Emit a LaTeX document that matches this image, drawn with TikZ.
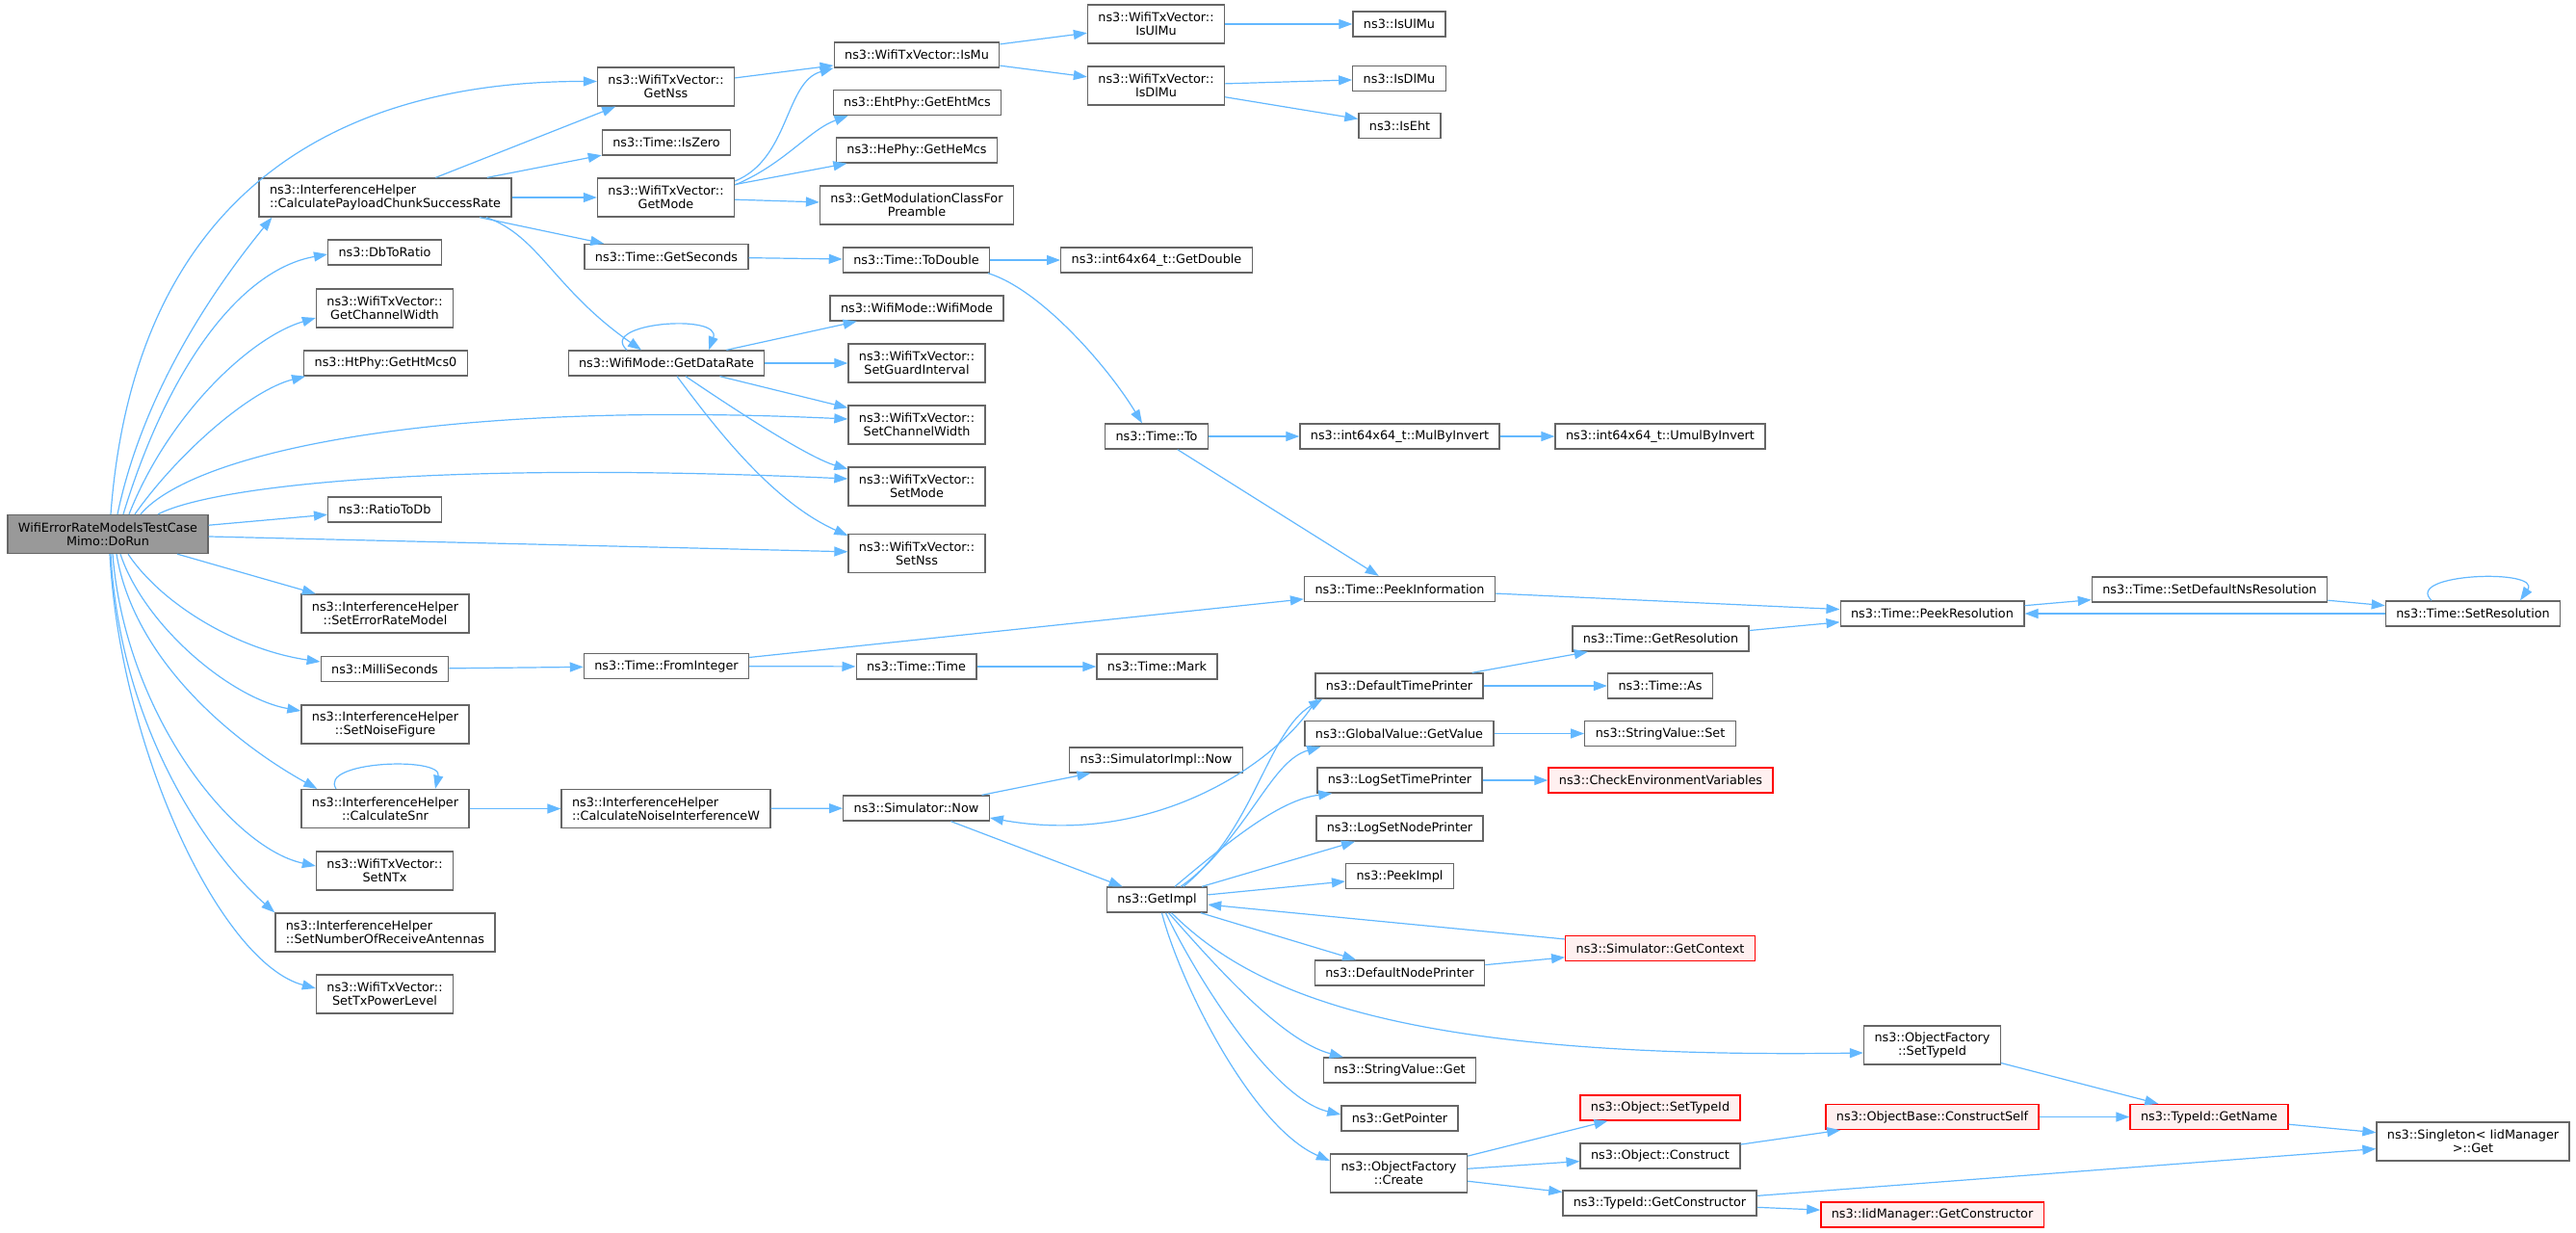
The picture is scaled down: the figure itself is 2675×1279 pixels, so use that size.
\documentclass[tikz,border=0pt]{standalone}
\usepackage{fontspec}
\usepackage{tikz}
\usetikzlibrary{arrows.meta,calc}
\newfontfamily\dejavu{DejaVu Sans}
\definecolor{edgeblue}{HTML}{63B8FF}
\definecolor{nodegrey}{HTML}{666666}
\definecolor{rootfill}{HTML}{999999}
\definecolor{redfill}{HTML}{FFF0F0}
\tikzset{
  fn/.style={draw=nodegrey, line width=1pt, fill=white, text=black,
    font=\dejavu\fontsize{9.6pt}{10.6pt}\selectfont,
    inner xsep=8.2pt, inner ysep=4.9pt, minimum height=19.5pt, align=center},
  fn2/.style={fn, minimum height=30pt},
  fnleft/.style={fn2, align=left},
  fnred/.style={fn, draw=red, fill=redfill},
  root/.style={fn2, fill=rootfill},
  call/.style={draw=edgeblue, line width=0.9pt, -{Triangle[length=10.5pt,width=7.5pt]}}
}
\begin{document}
\begin{tikzpicture}[x=0.75pt,y=0.75pt,yscale=-1,xscale=1]
\useasboundingbox (0,0) rectangle (2675,1279);

% Text Node: caller
\node[root] (dorun) at (112,554.5) {WifiErrorRateModelsTestCase\\Mimo::DoRun};

% Text Node: first column
\node[fnleft] (cpcsr) at (400,205) {ns3::InterferenceHelper\\::CalculatePayloadChunkSuccessRate};
\node[fn] (dbtoratio) at (399.5,262) {ns3::DbToRatio};
\node[fn2] (getchw) at (399.5,320) {ns3::WifiTxVector::\\GetChannelWidth};
\node[fn] (gethtmcs) at (400.5,377) {ns3::HtPhy::GetHtMcs0};
\node[fn] (ratiotodb) at (399.5,529) {ns3::RatioToDb};
\node[fn2] (seterm) at (400,637) {ns3::InterferenceHelper\\::SetErrorRateModel};
\node[fn] (millis) at (399.5,694.5) {ns3::MilliSeconds};
\node[fn2] (setnf) at (400,752) {ns3::InterferenceHelper\\::SetNoiseFigure};
\node[fn2] (calcsnr) at (400,839.5) {ns3::InterferenceHelper\\::CalculateSnr};
\node[fn2] (setntx) at (399.5,904) {ns3::WifiTxVector::\\SetNTx};
\node[fnleft] (setnra) at (400,968) {ns3::InterferenceHelper\\::SetNumberOfReceiveAntennas};
\node[fn2] (settxpl) at (399.5,1032) {ns3::WifiTxVector::\\SetTxPowerLevel};

% Text Node: second column
\node[fn2] (getnss) at (691.5,90) {ns3::WifiTxVector::\\GetNss};
\node[fn] (iszero) at (692,148) {ns3::Time::IsZero};
\node[fn2] (getmode) at (691.5,205) {ns3::WifiTxVector::\\GetMode};
\node[fn] (getsec) at (692,266.5) {ns3::Time::GetSeconds};
\node[fn] (getrate) at (692,377) {ns3::WifiMode::GetDataRate};
\node[fn] (fromint) at (692,691.5) {ns3::Time::FromInteger};
\node[fnleft] (calcniw) at (691.5,839.5) {ns3::InterferenceHelper\\::CalculateNoiseInterferenceW};

% Text Node: third column
\node[fn] (ismu) at (952,57) {ns3::WifiTxVector::IsMu};
\node[fn] (getehtmcs) at (952.5,106.5) {ns3::EhtPhy::GetEhtMcs};
\node[fn] (gethemcs) at (952,156) {ns3::HePhy::GetHeMcs};
\node[fn2] (getmcfp) at (952,213) {ns3::GetModulationClassFor\\Preamble};
\node[fn] (todouble) at (951.5,270) {ns3::Time::ToDouble};
\node[fn] (wifimode) at (952,320) {ns3::WifiMode::WifiMode};
\node[fn2] (setgi) at (952,377) {ns3::WifiTxVector::\\SetGuardInterval};
\node[fn2] (setcw) at (952,441) {ns3::WifiTxVector::\\SetChannelWidth};
\node[fn2] (setmode) at (952,505) {ns3::WifiTxVector::\\SetMode};
\node[fn2] (setnss) at (952,574.5) {ns3::WifiTxVector::\\SetNss};
\node[fn] (timetime) at (951.5,692) {ns3::Time::Time};
\node[fn] (simnow) at (951.5,839) {ns3::Simulator::Now};

% Text Node: fourth column
\node[fn2] (txisulmu) at (1200.5,25) {ns3::WifiTxVector::\\IsUlMu};
\node[fn2] (txisdlmu) at (1200.5,89) {ns3::WifiTxVector::\\IsDlMu};
\node[fn] (getdouble) at (1201,270) {ns3::int64x64\_t::GetDouble};
\node[fn] (timeto) at (1201,453) {ns3::Time::To};
\node[fn] (timemark) at (1201.5,692) {ns3::Time::Mark};
\node[fn] (simimplnow) at (1200.5,789) {ns3::SimulatorImpl::Now};
\node[fn] (getimpl) at (1201.5,934) {ns3::GetImpl};

% Text Node: fifth column
\node[fn] (isulmu) at (1453,25) {ns3::IsUlMu};
\node[fn] (isdlmu) at (1453,81.5) {ns3::IsDlMu};
\node[fn] (iseht) at (1453.5,130.5) {ns3::IsEht};
\node[fn] (mulbyinv) at (1453.5,453) {ns3::int64x64\_t::MulByInvert};
\node[fn] (peekinfo) at (1453.5,611.5) {ns3::Time::PeekInformation};
\node[fn] (deftimepr) at (1453,712) {ns3::DefaultTimePrinter};
\node[fn] (gvgetvalue) at (1453,761.5) {ns3::GlobalValue::GetValue};
\node[fn] (logsettp) at (1453.5,810) {ns3::LogSetTimePrinter};
\node[fn] (logsetnp) at (1453.5,860) {ns3::LogSetNodePrinter};
\node[fn] (peekimpl) at (1453.5,909.5) {ns3::PeekImpl};
\node[fn] (defnodepr) at (1453.5,1010) {ns3::DefaultNodePrinter};
\node[fn] (svget) at (1453.5,1111) {ns3::StringValue::Get};
\node[fn] (getpointer) at (1453.5,1161) {ns3::GetPointer};
\node[fn2] (ofcreate) at (1452.5,1218) {ns3::ObjectFactory\\::Create};

% Text Node: sixth column
\node[fn] (umulbyinv) at (1724,453) {ns3::int64x64\_t::UmulByInvert};
\node[fn] (getres) at (1724.5,663) {ns3::Time::GetResolution};
\node[fn] (timeas) at (1724,712) {ns3::Time::As};
\node[fn] (svset) at (1724,761.5) {ns3::StringValue::Set};
\node[fnred] (checkenv) at (1724.5,810) {ns3::CheckEnvironmentVariables};
\node[fnred] (getcontext) at (1724,984.5) {ns3::Simulator::GetContext};
\node[fnred] (objsettid) at (1724,1150) {ns3::Object::SetTypeId};
\node[fn] (objconstruct) at (1724,1200) {ns3::Object::Construct};
\node[fn] (tidgetctor) at (1723.5,1249) {ns3::TypeId::GetConstructor};

% Text Node: right columns
\node[fn] (peekres) at (2006.5,637) {ns3::Time::PeekResolution};
\node[fn2] (ofsettid) at (2006.5,1085) {ns3::ObjectFactory\\::SetTypeId};
\node[fnred] (constructself) at (2006.5,1159.5) {ns3::ObjectBase::ConstructSelf};
\node[fnred] (iidgetctor) at (2006.5,1261) {ns3::IidManager::GetConstructor};
\node[fn] (setdefres) at (2294.5,612) {ns3::Time::SetDefaultNsResolution};
\node[fnred] (getname) at (2294,1159.5) {ns3::TypeId::GetName};
\node[fn] (setres) at (2568,637) {ns3::Time::SetResolution};
\node[fn2] (singleton) at (2568,1185) {ns3::Singleton< IidManager\\>::Get};

%Curve Lines: out of the caller, upwards
\draw[call] ($(dorun.north)+(3,0)$) .. controls (140,200) and (350,84) .. ($(getnss.west)+(0,-5.5)$);
\draw[call] ($(dorun.north)+(10,0)$) .. controls (150,400) and (230,290) .. ($(cpcsr.south west)+(14,0)$);
\draw[call] ($(dorun.north)+(16,0)$) .. controls (175,380) and (250,280) .. ($(dbtoratio.west)+(0,2)$);
\draw[call] ($(dorun.north)+(22,0)$) .. controls (175,430) and (260,350) .. ($(getchw.west)+(0,10)$);
\draw[call] ($(dorun.north)+(28,0)$) .. controls (185,470) and (260,405) .. ($(gethtmcs.south west)+(2,0)$);
\draw[call] ($(dorun.north)+(34,0)$) .. controls (200,470) and (450,415) .. ($(setcw.west)+(0,-6)$);
\draw[call] ($(dorun.north)+(52,0)$) .. controls (220,505) and (450,478) .. ($(setmode.west)+(0,-8)$);

%Curve Lines: out of the caller, downwards
\draw[call] ($(dorun.south)+(21,0)$) .. controls (170,630) and (250,675) .. ($(millis.west)+(0,-7.5)$);
\draw[call] ($(dorun.south)+(13,0)$) .. controls (150,650) and (240,725) .. ($(setnf.west)+(0,-14)$);
\draw[call] ($(dorun.south)+(9,0)$) .. controls (140,690) and (250,775) .. ($(calcsnr.north west)+(17,0)$);
\draw[call] ($(dorun.south)+(5,0)$) .. controls (130,740) and (240,880) .. ($(setntx.west)+(0,-5)$);
\draw[call] ($(dorun.south)+(3,0)$) .. controls (125,760) and (220,890) .. (setnra.north west);
\draw[call] ($(dorun.south)+(2,0)$) .. controls (125,780) and (230,1000) .. ($(settxpl.west)+(0,-6)$);

%Straight Lines
\draw[call] (dorun) -- (ratiotodb);
\draw[call] (dorun) -- (setnss);
\draw[call] (dorun) -- (seterm);
\draw[call] (cpcsr) -- (getnss);
\draw[call] (cpcsr) -- (iszero);
\draw[call] (cpcsr) -- (getmode);
\draw[call] (cpcsr) -- (getsec);
\draw[call] (getnss) -- (ismu);
\draw[call] (getmode) -- (gethemcs);
\draw[call] (getmode) -- (getmcfp);
\draw[call] (ismu) -- (txisulmu);
\draw[call] (ismu) -- (txisdlmu);
\draw[call] (txisulmu) -- (isulmu);
\draw[call] (txisdlmu) -- (isdlmu);
\draw[call] (txisdlmu) -- (iseht);
\draw[call] (getsec) -- (todouble);
\draw[call] (todouble) -- (getdouble);
\draw[call] (timeto) -- (mulbyinv);
\draw[call] (mulbyinv) -- (umulbyinv);
\draw[call] (timeto) -- (peekinfo);
\draw[call] (getrate) -- (wifimode);
\draw[call] (getrate) -- (setgi);
\draw[call] (getrate) -- (setcw);
\draw[call] (millis) -- (fromint);
\draw[call] (fromint) -- (peekinfo);
\draw[call] (fromint) -- (timetime);
\draw[call] (timetime) -- (timemark);
\draw[call] (peekinfo) -- (peekres);
\draw[call] (getres) -- (peekres);
\draw[call] (peekres) -- (setdefres);
\draw[call] (setdefres) -- (setres);
\draw[call] (setres) -- (peekres);
\draw[call] (calcsnr) -- (calcniw);
\draw[call] (calcniw) -- (simnow);
\draw[call] (simnow) -- (simimplnow);
\draw[call] (simnow) -- (getimpl);
\draw[call] (getimpl) -- (logsetnp);
\draw[call] (getimpl) -- (peekimpl);
\draw[call] (getcontext) -- (getimpl);
\draw[call] (getimpl) -- (defnodepr);
\draw[call] (defnodepr) -- (getcontext);
\draw[call] (deftimepr) -- (getres);
\draw[call] (deftimepr) -- (timeas);
\draw[call] (gvgetvalue) -- (svset);
\draw[call] (logsettp) -- (checkenv);
\draw[call] (ofcreate) -- (objsettid);
\draw[call] (ofcreate) -- (objconstruct);
\draw[call] (ofcreate) -- (tidgetctor);
\draw[call] (objconstruct) -- (constructself);
\draw[call] (ofsettid) -- (getname);
\draw[call] (constructself) -- (getname);
\draw[call] (getname) -- (singleton);
\draw[call] (tidgetctor) -- (singleton);
\draw[call] (tidgetctor) -- (iidgetctor);

%Curve Lines: middle of the graph
\draw[call] ($(cpcsr.south)+(105,0)$) .. controls (560,245) and (575,300) .. ($(getrate.north)+(-26,0)$);
\draw[call] ($(getmode.east)+(0,-17)$) .. controls (820,165) and (815,85) .. (ismu.south west);
\draw[call] ($(getmode.east)+(0,-13)$) .. controls (815,170) and (840,135) .. ($(getehtmcs.south west)+(16,0)$);
\draw[call] ($(getrate.south)+(20,0)$) .. controls (770,430) and (840,475) .. ($(setmode.west)+(0,-18)$);
\draw[call] ($(getrate.south)+(11,0)$) .. controls (740,440) and (800,520) .. ($(setnss.west)+(0,-18.5)$);
\draw[call] ($(todouble.south)+(74.5,0)$) .. controls (1080,300) and (1150,380) .. ($(timeto.north)+(-15,0)$);

%Curve Lines: round GetImpl
\draw[call] ($(getimpl.north)+(24.5,0)$) .. controls (1300,870) and (1315,760) .. ($(deftimepr.south west)+(8,0)$);
\draw[call] ($(deftimepr.south west)+(2,0)$) .. controls (1330,790) and (1200,880) .. ($(simnow.east)+(0,10)$);
\draw[call] ($(getimpl.north)+(27.5,0)$) .. controls (1300,860) and (1320,790) .. ($(gvgetvalue.south west)+(17,0)$);
\draw[call] ($(getimpl.north)+(18.5,0)$) .. controls (1280,870) and (1330,830) .. ($(logsettp.south west)+(16,0)$);
\draw[call] ($(getimpl.south)+(12,0)$) .. controls (1260,1000) and (1330,1080) .. ($(svget.north west)+(21,0)$);
\draw[call] ($(getimpl.south)+(9,0)$) .. controls (1240,1010) and (1320,1140) .. ($(getpointer.west)+(0,-4)$);
\draw[call] ($(getimpl.south)+(5,0)$) .. controls (1225,1020) and (1300,1170) .. ($(ofcreate.west)+(0,-13)$);
\draw[call] ($(getimpl.south)+(15,0)$) .. controls (1300,1030) and (1450,1100) .. ($(ofsettid.west)+(0,8)$);

%Curve Lines: self calls
\draw[call] ($(getrate.north)+(-41,0)$) .. controls (620,335) and (750,325) .. ($(getrate.north)+(44,0)$);
\draw[call] ($(calcsnr.north)+(-51,0)$) .. controls (330,790) and (460,785) .. ($(calcsnr.north)+(52,0)$);
\draw[call] ($(setres.north)+(-43,0)$) .. controls (2495,595) and (2640,590) .. ($(setres.north)+(49,0)$);

\end{tikzpicture}
\end{document}
